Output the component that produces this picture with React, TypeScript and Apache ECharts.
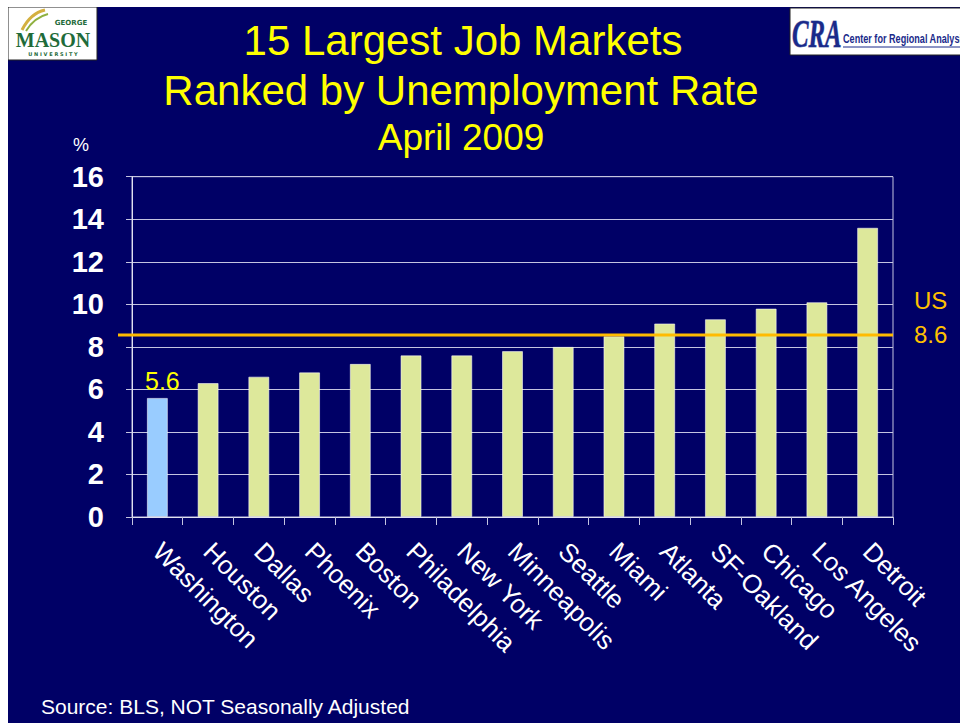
import React, { useEffect, useRef } from 'react';
import * as echarts from 'echarts';

const CITIES = [
  'Washington', 'Houston', 'Dallas', 'Phoenix', 'Boston', 'Philadelphia', 'New York',
  'Minneapolis', 'Seattle', 'Miami', 'Atlanta', 'SF-Oakland', 'Chicago', 'Los Angeles', 'Detroit',
];
const RATES = [5.6, 6.3, 6.6, 6.8, 7.2, 7.6, 7.6, 7.8, 8.0, 8.5, 9.1, 9.3, 9.8, 10.1, 13.6];
const HIGHLIGHT_CITY = 'Washington';
const US_RATE = 8.6;
const US_LABEL = 'US';
const Y_MIN = 0;
const Y_MAX = 16;
const Y_STEP = 2;
const TITLE_LINES = ['15 Largest Job Markets', 'Ranked by Unemployment Rate'];
const SUBTITLE = 'April 2009';
const SOURCE = 'Source: BLS, NOT Seasonally Adjusted';
const UNIT = '%';

const NAVY = '#000066';
const BAR = '#dde89b';
const BAR_HI = '#99ccff';
const FONT = 'Arial, "Liberation Sans", Helvetica, sans-serif';

export default function App() {
  const ref = useRef<HTMLDivElement>(null);
  useEffect(() => {
    const el = ref.current;
    if (!el) return;
    const chart = echarts.init(el, null, { renderer: 'svg' });
    const data = CITIES.map((c, i) => {
      const hi = c === HIGHLIGHT_CITY;
      return {
        value: RATES[i],
        itemStyle: { color: hi ? BAR_HI : BAR },
        label: hi
          ? {
              show: true,
              position: 'top',
              formatter: String(RATES[i]),
              color: '#ffff00',
              fontSize: 25,
              fontFamily: FONT,
              offset: [5, 0],
              distance: 4,
            }
          : { show: false },
      };
    });
    chart.setOption({
      animation: false,
      backgroundColor: NAVY,
      grid: {
        left: 132,
        right: 67,
        top: 176.7,
        bottom: 206,
        show: true,
        borderColor: '#c4c4e0',
        borderWidth: 1,
        backgroundColor: 'transparent',
      },
      xAxis: {
        type: 'category',
        data: CITIES,
        axisLine: { show: true, lineStyle: { color: '#e0e0f0', width: 1 } },
        axisTick: { show: true, length: 8, alignWithLabel: false, lineStyle: { color: '#c4c4e0' } },
        axisLabel: {
          interval: 0,
          rotate: -45,
          color: '#ffffff',
          fontSize: 26,
          fontFamily: FONT,
          margin: 30,
        },
        splitLine: { show: false },
      },
      yAxis: {
        type: 'value',
        min: Y_MIN,
        max: Y_MAX,
        interval: Y_STEP,
        axisLine: { show: true, lineStyle: { color: '#e0e0f0', width: 1 } },
        axisTick: { show: true, length: 6, lineStyle: { color: '#c4c4e0' } },
        axisLabel: {
          color: '#ffffff',
          fontSize: 29,
          fontWeight: 'bold',
          fontFamily: FONT,
          margin: 28,
        },
        splitLine: { show: true, lineStyle: { color: '#c4c4e0', width: 1 } },
      },
      series: [
        {
          type: 'bar',
          data,
          barWidth: 21,
          itemStyle: { borderColor: 'rgba(255,255,255,0.55)', borderWidth: 1 },
        },
      ],
    });

    const yUS = chart.convertToPixel({ yAxisIndex: 0 }, US_RATE) as number;
    const xRight = 893;

    chart.setOption({
      graphic: [
        // page margins (white)
        { type: 'rect', shape: { x: 0, y: 0, width: 960, height: 7 }, style: { fill: '#ffffff' }, z: 100 },
        { type: 'rect', shape: { x: 0, y: 0, width: 8, height: 723 }, style: { fill: '#ffffff' }, z: 100 },
        // US reference line
        {
          type: 'line',
          shape: { x1: 118, y1: yUS + 0.8, x2: xRight, y2: yUS + 0.8 },
          style: { stroke: '#ffbb00', lineWidth: 3 },
          z: 50,
        },
        {
          type: 'text',
          x: 914,
          y: yUS - 34,
          style: { text: US_LABEL, fill: '#ffc000', font: `24px ${FONT}`, textVerticalAlign: 'middle' },
          z: 50,
        },
        {
          type: 'text',
          x: 914,
          y: yUS,
          style: { text: String(US_RATE), fill: '#ffc000', font: `24px ${FONT}`, textVerticalAlign: 'middle' },
          z: 50,
        },
        // titles
        {
          type: 'text',
          x: 463,
          y: 40,
          style: { text: TITLE_LINES[0], fill: '#ffff00', font: `42px ${FONT}`, textAlign: 'center', textVerticalAlign: 'middle' },
        },
        {
          type: 'text',
          x: 461,
          y: 90,
          style: { text: TITLE_LINES[1], fill: '#ffff00', font: `42px ${FONT}`, textAlign: 'center', textVerticalAlign: 'middle' },
        },
        {
          type: 'text',
          x: 461,
          y: 137,
          style: { text: SUBTITLE, fill: '#ffff00', font: `37px ${FONT}`, textAlign: 'center', textVerticalAlign: 'middle' },
        },
        // unit
        {
          type: 'text',
          x: 81,
          y: 145,
          style: { text: UNIT, fill: '#ffffff', font: `18px ${FONT}`, textAlign: 'center', textVerticalAlign: 'middle' },
        },
        // source
        {
          type: 'text',
          x: 41,
          y: 706,
          style: { text: SOURCE, fill: '#ffffff', font: `21px ${FONT}`, textVerticalAlign: 'middle' },
        },
        // George Mason logo
        {
          type: 'group',
          children: [
            { type: 'rect', shape: { x: 8, y: 7, width: 89, height: 53 }, style: { fill: '#ffffff', stroke: '#222222', lineWidth: 1 } },
            { type: 'bezierCurve', shape: { x1: 22, y1: 30, x2: 45, y2: 10, cpx1: 28, cpy1: 18, cpx2: 36, cpy2: 12 }, style: { stroke: '#d4b040', lineWidth: 3, fill: 'none' } },
            { type: 'bezierCurve', shape: { x1: 26, y1: 31, x2: 48, y2: 14, cpx1: 32, cpy1: 21, cpx2: 40, cpy2: 16 }, style: { stroke: '#8fb040', lineWidth: 2, fill: 'none' } },
            { type: 'text', x: 71, y: 23, style: { text: 'GEORGE', fill: '#1f6b3a', font: 'bold 7px "DejaVu Sans", sans-serif', textAlign: 'center', textVerticalAlign: 'middle' } },
            { type: 'text', x: 53, y: 40, style: { text: 'MASON', fill: '#1f6b3a', font: 'bold 20px "Liberation Serif", "Times New Roman", serif', textAlign: 'center', textVerticalAlign: 'middle' } },
            { type: 'text', x: 53, y: 54, style: { text: 'U N I V E R S I T Y', fill: '#1f6b3a', font: 'bold 5px "DejaVu Sans", sans-serif', textAlign: 'center', textVerticalAlign: 'middle' } },
          ],
        },
        // CRA logo
        {
          type: 'group',
          children: [
            { type: 'rect', shape: { x: 790, y: 8, width: 175, height: 47 }, style: { fill: '#ffffff', stroke: '#222222', lineWidth: 1 } },
            { type: 'text', x: 792, y: 33, scaleX: 0.62, style: { text: 'CRA', fill: '#1a2a8a', stroke: '#8090c0', lineWidth: 1, font: 'italic bold 40px "Liberation Serif", serif', textVerticalAlign: 'middle' } },
            { type: 'text', x: 843, y: 38, scaleX: 0.7, style: { text: 'Center for Regional Analysis', fill: '#1a2a8a', font: `bold 13px ${FONT}`, textVerticalAlign: 'middle' } },
            { type: 'line', shape: { x1: 843, y1: 47, x2: 960, y2: 47 }, style: { stroke: '#1a2a8a', lineWidth: 1 } },
          ],
        },
      ],
    });
    return () => chart.dispose();
  }, []);
  return (
    <div
      ref={ref}
      style={{ position: 'fixed', left: 0, top: 0, width: 960, height: 723 }}
    />
  );
}
